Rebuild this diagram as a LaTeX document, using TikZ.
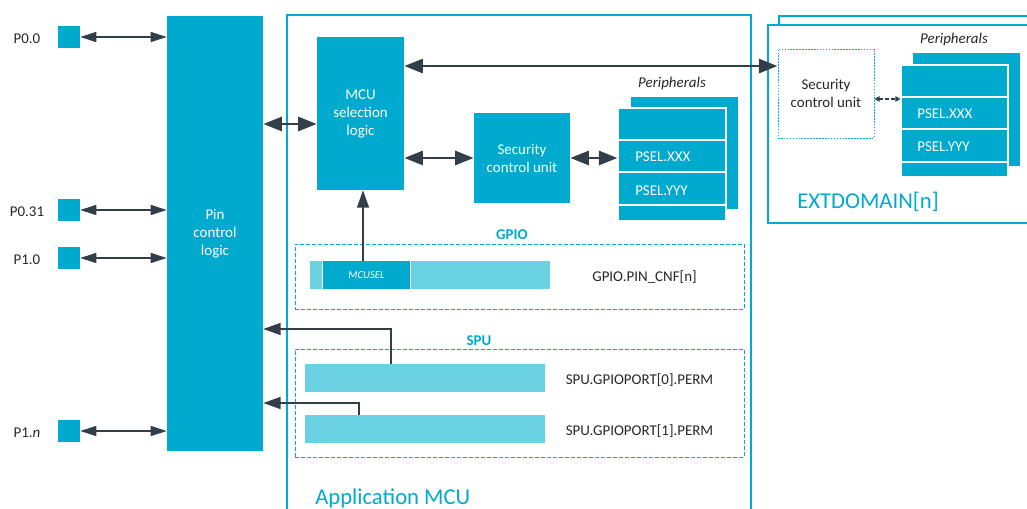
\documentclass[tikz,border=0pt]{standalone}
\usepackage{fontspec}
\setmainfont{Carlito}
\usetikzlibrary{arrows.meta}
\definecolor{nblue}{HTML}{00A9CE}
\definecolor{lblue}{HTML}{6AD1E3}
\definecolor{dark}{HTML}{333F48}
\definecolor{txt}{HTML}{262626}
\newcommand\fnorm{\fontsize{11.2pt}{13.5pt}\selectfont}
\newcommand\fbig{\fontsize{17pt}{20pt}\selectfont}
\newcommand\fsmall{\fontsize{8pt}{9pt}\selectfont}
\tikzset{
  box/.style={fill=nblue, draw=none, inner sep=0pt, text=white, align=center, font=\fnorm},
  pinsq/.style={fill=nblue, draw=none, inner sep=0pt, minimum size=16.5pt},
  lbl/.style={text=txt, font=\fnorm, inner sep=0pt},
  wlbl/.style={text=white, font=\fnorm, inner sep=0pt},
  ttl/.style={text=nblue, font=\fnorm\bfseries, inner sep=0pt},
  bigt/.style={text=nblue, font=\fbig, inner sep=0pt},
  prow/.style={fill=nblue, draw=white, line width=0.8pt, inner sep=0pt},
  pback/.style={fill=nblue, draw=none, inner sep=0pt},
  bar/.style={fill=lblue, draw=none, inner sep=0pt},
  dbox/.style={draw=nblue, line width=0.7pt, dash pattern=on 3pt off 1.5pt, inner sep=0pt},
  frame/.style={draw=nblue, line width=0.8pt},
  pinarr/.style={draw=dark, line width=0.9pt, {Triangle[length=12pt,width=7.5pt]}-{Triangle[length=12pt,width=7.5pt]}},
  bigarr/.style={draw=dark, line width=2.2pt, {Triangle[length=14pt,width=10.5pt]}-{Triangle[length=14pt,width=10.5pt]}},
  onearr/.style={draw=dark, line width=1.1pt, -{Triangle[length=13pt,width=9pt]}},
  smallarr/.style={draw=dark, line width=0.9pt, dash pattern=on 2.5pt off 2pt, {Triangle[length=3.8pt,width=4pt]}-{Triangle[length=3.8pt,width=4pt]}},
}
\begin{document}
\begin{tikzpicture}[x=0.75pt,y=-0.75pt]
\useasboundingbox (0,0) rectangle (1027,509);

% ---------- frames ----------
\draw[frame] (287,509) -- (287,15) -- (751,15) -- (751,509);
\draw[frame] (1027,16) -- (779,16) -- (779,25);
\draw[frame] (1027,25) -- (768,25) -- (768,223) -- (1027,223);
\node[bigt, anchor=base west] (appmcu) at (315,504) {Application MCU};
\node[bigt, anchor=base west] (extd) at (797,209) {EXTDOMAIN[n]};

% ---------- pins ----------
\node[box, minimum width=72pt, minimum height=326.25pt] (pin) at (215,233.5) {Pin\\control\\logic};
\node[pinsq] (p00) at (69,37) {};
\node[pinsq] (p031) at (69,210) {};
\node[pinsq] (p10) at (69,258) {};
\node[pinsq] (p1n) at (69,431) {};
\node[lbl, anchor=base] (l00) at (27,44) {P0.0};
\node[lbl, anchor=base] (l031) at (27,217) {P0.31};
\node[lbl, anchor=base] (l10) at (27,265) {P1.0};
\node[lbl, anchor=base] (l1n) at (27,437) {P1.\textit{n}};
\draw[pinarr] (p00.east) -- (p00.east -| pin.west);
\draw[pinarr] (p031.east) -- (p031.east -| pin.west);
\draw[pinarr] (p10.east) -- (p10.east -| pin.west);
\draw[pinarr] (p1n.east) -- (p1n.east -| pin.west);

% ---------- MCU selection, SCU ----------
\node[box, minimum width=65.25pt, minimum height=114.75pt] (mcu) at (360.5,113.5) {MCU\\selection\\logic};
\node[box, minimum width=72pt, minimum height=67.5pt] (scu) at (522,158) {Security\\control unit};

% peripherals (application)
\node[pback, minimum width=80.25pt, minimum height=84pt] (pbk) at (684.5,153) {};
\node[prow, minimum width=81pt, minimum height=24pt] (pA) at (672,124) {};
\node[prow, minimum width=81pt, minimum height=24pt] (pX) at (672,156) {};
\node[prow, minimum width=81pt, minimum height=24.75pt] (pY) at (672,188.5) {};
\node[prow, minimum width=81pt, minimum height=12pt] (pB) at (672,213) {};
\node[wlbl, anchor=base west] (tX) at (635,162) {PSEL.XXX};
\node[wlbl, anchor=base west] (tY) at (635,195.5) {PSEL.YYY};
\node[lbl, anchor=base] (perl) at (672,88) {\textit{Peripherals}};

% ---------- EXTDOMAIN ----------
\node[draw=nblue, line width=0.7pt, dash pattern=on 1.2pt off 1pt, inner sep=0pt,
      minimum width=72pt, minimum height=66.75pt, text=txt, align=center, font=\fnorm] (escu) at (826,93.5) {Security\\control unit};
\node[pback, minimum width=80.25pt, minimum height=84.75pt] (epbk) at (966.5,109.5) {};
\node[prow, minimum width=80.25pt, minimum height=24pt] (epA) at (954.5,81) {};
\node[prow, minimum width=80.25pt, minimum height=24pt] (epX) at (954.5,113) {};
\node[prow, minimum width=80.25pt, minimum height=24.75pt] (epY) at (954.5,145.5) {};
\node[prow, minimum width=80.25pt, minimum height=11.25pt] (epB) at (954.5,169.5) {};
\node[wlbl, anchor=base west] (etX) at (917,119) {PSEL.XXX};
\node[wlbl, anchor=base west] (etY) at (917,152) {PSEL.YYY};
\node[lbl, anchor=base] (eperl) at (954,44) {\textit{Peripherals}};
\draw[smallarr] ([yshift=-4.1pt]escu.east) -- ([yshift=-4.1pt]escu.east -| epA.west);

% ---------- GPIO ----------
\node[ttl, anchor=base] (gpiot) at (512,240) {GPIO};
\node[dbox, minimum width=336.75pt, minimum height=48.75pt] (gpiob) at (519.5,276.5) {};
\node[bar, minimum width=9pt, minimum height=21pt] (g1) at (316,275) {};
\node[box, minimum width=65.25pt, minimum height=21pt, font=\fsmall\itshape] (mcusel) at (366.5,275) {MCUSEL};
\node[bar, minimum width=104.25pt, minimum height=21pt] (g3) at (480.5,275) {};
\node[lbl, anchor=base] (pincnf) at (644.5,281.5) {GPIO.PIN\_CNF[n]};

% ---------- SPU ----------
\node[ttl, anchor=base] (sput) at (479,345) {SPU};
\node[dbox, minimum width=336.75pt, minimum height=81pt] (spub) at (519.5,403) {};
\node[bar, minimum width=180pt, minimum height=21pt] (sb0) at (425,378) {};
\node[bar, minimum width=180pt, minimum height=21pt] (sb1) at (425,429) {};
\node[lbl, anchor=base] (perm0) at (639.5,384.5) {SPU.GPIOPORT[0].PERM};
\node[lbl, anchor=base] (perm1) at (639.5,435.5) {SPU.GPIOPORT[1].PERM};

% ---------- connectors ----------
\coordinate (m1) at ([yshift=-7.875pt]mcu.west);
\draw[bigarr] (pin.east |- m1) -- (m1);
\coordinate (m2) at ([yshift=35.6pt]mcu.east);
\draw[bigarr] (m2) -- (m2 -| escu.west);
\draw[bigarr] (mcu.east |- scu.west) -- (scu.west);
\draw[bigarr] (scu.east) -- (scu.east -| pX.west);
\coordinate (s1) at ([xshift=-2.625pt]mcusel.north);
\draw[onearr] (s1) -- (s1 |- mcu.south);
\coordinate (k0) at (391,329);
\draw[onearr] ([xshift=-25.5pt]sb0.north) -- (k0) -- (k0 -| pin.east);
\coordinate (k1) at (359,403);
\draw[onearr] ([xshift=-49.5pt]sb1.north) -- (k1) -- (k1 -| pin.east);
\end{tikzpicture}
\end{document}
